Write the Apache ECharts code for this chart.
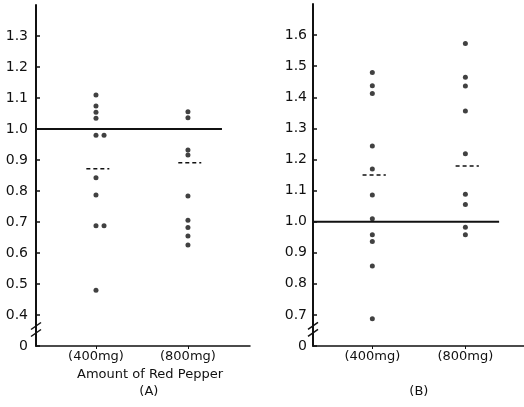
<!DOCTYPE html>
<html>
<head>
<meta charset="utf-8">
<script src="https://cdn.jsdelivr.net/npm/echarts@6/dist/echarts.min.js"></script>
<style>
  html, body { margin: 0; padding: 0; background: #fff; }
  #chart { width: 524px; height: 407px; }
</style>
</head>
<body>
<div id="chart"></div>
<script>
// doses on the x axis (mg) and their labels
var doses = [400, 800];
var doseLabels = ['(400mg)', '(800mg)'];

// panel A: individual ratios, [dose mg, ratio]
var a400 = [[400, 1.11], [400, 1.074], [400, 1.054], [400, 1.035], [400, 0.98], [435, 0.98],
            [400, 0.843], [400, 0.787], [400, 0.688], [435, 0.688], [400, 0.48]];
var a800 = [[800, 1.056], [800, 1.036], [800, 0.932], [800, 0.916], [800, 0.784],
            [800, 0.706], [800, 0.682], [800, 0.655], [800, 0.626]];
var aMeans = [0.872, 0.891];

// panel B
var b400 = [[400, 1.48], [400, 1.437], [400, 1.412], [400, 1.243], [400, 1.169], [400, 1.086],
            [400, 1.009], [400, 0.958], [400, 0.936], [400, 0.857], [400, 0.688]];
var b800 = [[800, 1.573], [800, 1.464], [800, 1.436], [800, 1.356], [800, 1.218], [800, 1.088],
            [800, 1.055], [800, 0.982], [800, 0.958]];
var bMeans = [1.15, 1.179];

// y tick labels; the lowest tick stands for 0 below the axis break
var aTicks = [0.3, 0.4, 0.5, 0.6, 0.7, 0.8, 0.9, 1.0, 1.1, 1.2, 1.3];
var aTickLabels = ['0', '0.4', '0.5', '0.6', '0.7', '0.8', '0.9', '1.0', '1.1', '1.2', '1.3'];
var bTicks = [0.6, 0.7, 0.8, 0.9, 1.0, 1.1, 1.2, 1.3, 1.4, 1.5, 1.6];
var bTickLabels = ['0', '0.7', '0.8', '0.9', '1.0', '1.1', '1.2', '1.3', '1.4', '1.5', '1.6'];

var ink = '#111';
var font = 'DejaVu Sans';

function yAxis(idx, min, max, ticks, labels, margin) {
  return {
    type: 'value', gridIndex: idx, min: min, max: max,
    splitLine: { show: false },
    axisLine: { show: true, lineStyle: { color: ink, width: 2 } },
    axisTick: { inside: true, length: 4, customValues: ticks, lineStyle: { color: ink, width: 1.5 } },
    axisLabel: {
      customValues: ticks, color: ink, fontSize: 14, fontFamily: font, margin: margin,
      formatter: function (v) {
        var i = ticks.findIndex(function (t) { return Math.abs(t - v) < 1e-6; });
        return i >= 0 ? labels[i] : '';
      }
    }
  };
}

function xAxis(idx, min, max) {
  return {
    type: 'value', gridIndex: idx, min: min, max: max,
    splitLine: { show: false },
    axisLine: { show: true, onZero: false, lineStyle: { color: ink, width: 1.5 } },
    axisTick: { customValues: doses, length: 3, lineStyle: { color: ink } },
    axisLabel: {
      customValues: doses, color: ink, fontSize: 13, fontFamily: font, margin: 4,
      formatter: function (v) { return doseLabels[doses.indexOf(v)] || ''; }
    }
  };
}

function dots(idx, data) {
  return {
    type: 'scatter', xAxisIndex: idx, yAxisIndex: idx, data: data,
    symbolSize: 5, itemStyle: { color: ink }, silent: true
  };
}

// dashed mean marks, drawn a little to the right of each column
function meanLine(idx, dose, mean) {
  return {
    type: 'line', xAxisIndex: idx, yAxisIndex: idx,
    data: [[dose - 42, mean], [dose + 58, mean]],
    symbol: 'none', silent: true,
    lineStyle: { color: ink, width: 1.5, type: [4, 3] }
  };
}

function refLine(idx, x0, x1) {
  return {
    type: 'line', xAxisIndex: idx, yAxisIndex: idx,
    data: [[x0, 1.0], [x1, 1.0]], symbol: 'none', silent: true,
    lineStyle: { color: ink, width: 2 }
  };
}

var chart = echarts.init(document.getElementById('chart'));
chart.setOption({
  animation: false,
  backgroundColor: '#fff',
  grid: [
    { left: 36, top: 5, width: 214, bottom: 61 },
    { left: 313, top: 4, width: 211, bottom: 61 }
  ],
  xAxis: [xAxis(0, 139, 1070), xAxis(1, 145, 1052)],
  yAxis: [yAxis(0, 0.3, 1.4, aTicks, aTickLabels, 8), yAxis(1, 0.6, 1.7, bTicks, bTickLabels, 6)],
  series: [
    refLine(0, 139, 948),
    dots(0, a400), dots(0, a800),
    meanLine(0, doses[0], aMeans[0]), meanLine(0, doses[1], aMeans[1]),
    refLine(1, 145, 945),
    dots(1, b400), dots(1, b800),
    meanLine(1, doses[0], bMeans[0]), meanLine(1, doses[1], bMeans[1])
  ]
});

// axis break marks and panel captions, placed from the axes
function breakMark(idx, xMin, yVal) {
  var p = chart.convertToPixel({ xAxisIndex: idx, yAxisIndex: idx }, [xMin, yVal]);
  var x = p[0], y = p[1];
  return [
    { type: 'rect', shape: { x: x - 3, y: y - 7, width: 6, height: 13 }, style: { fill: '#fff' } },
    { type: 'line', shape: { x1: x - 5, y1: y - 1, x2: x + 5, y2: y - 8 }, style: { stroke: ink, lineWidth: 1.5 } },
    { type: 'line', shape: { x1: x - 5, y1: y + 6, x2: x + 5, y2: y - 1 }, style: { stroke: ink, lineWidth: 1.5 } }
  ];
}
function caption(idx, xVal, top, text) {
  var p = chart.convertToPixel({ xAxisIndex: idx, yAxisIndex: idx }, [xVal, 1]);
  return {
    type: 'text', x: p[0], y: top,
    style: { text: text, fill: ink, font: '13px "' + font + '"', textAlign: 'center', textVerticalAlign: 'middle' }
  };
}
chart.setOption({
  graphic: breakMark(0, 139, 0.35)
    .concat(breakMark(1, 145, 0.65))
    .concat([
      caption(0, 635, 375, 'Amount of Red Pepper'),
      caption(0, 630, 392, '(A)'),
      caption(1, 600, 392, '(B)')
    ])
});
</script>
</body>
</html>
